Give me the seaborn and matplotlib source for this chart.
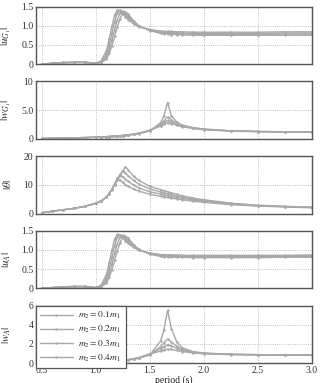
import matplotlib
matplotlib.use("Agg")
import matplotlib.pyplot as plt
import seaborn as sns
import pandas as pd

# period grid (s)
period = [0.5, 0.6, 0.7, 0.8, 0.9, 1.0, 1.05, 1.1, 1.125, 1.15, 1.175, 1.2, 1.225, 1.25, 1.275, 1.3,
          1.35, 1.4, 1.5, 1.6, 1.63, 1.665, 1.7, 1.75, 1.8, 1.9, 2.0, 2.25, 2.5, 2.75, 3.0]

cases = ["$m_2=0.1m_1$", "$m_2=0.2m_1$", "$m_2=0.3m_1$", "$m_2=0.4m_1$"]

# |u_G1|
uG1 = [
    [0.00, 0.02, 0.04, 0.05, 0.05, 0.02, 0.08, 0.35, 0.65, 0.98, 1.27, 1.41, 1.38, 1.31, 1.23, 1.16,
     1.05, 0.97, 0.90, 0.86, 0.85, 0.85, 0.85, 0.84, 0.84, 0.83, 0.83, 0.83, 0.83, 0.84, 0.84],
    [0.00, 0.02, 0.04, 0.05, 0.05, 0.02, 0.06, 0.25, 0.50, 0.80, 1.10, 1.33, 1.40, 1.36, 1.28, 1.20,
     1.07, 0.98, 0.89, 0.84, 0.83, 0.83, 0.82, 0.81, 0.81, 0.80, 0.80, 0.80, 0.80, 0.81, 0.81],
    [0.00, 0.02, 0.03, 0.04, 0.04, 0.02, 0.05, 0.18, 0.38, 0.62, 0.90, 1.15, 1.33, 1.38, 1.33, 1.25,
     1.10, 0.99, 0.88, 0.82, 0.81, 0.80, 0.79, 0.79, 0.78, 0.78, 0.77, 0.77, 0.77, 0.78, 0.78],
    [0.00, 0.01, 0.03, 0.04, 0.04, 0.02, 0.04, 0.12, 0.28, 0.48, 0.72, 0.96, 1.18, 1.32, 1.36, 1.31,
     1.13, 1.00, 0.87, 0.80, 0.79, 0.78, 0.77, 0.77, 0.76, 0.75, 0.75, 0.75, 0.75, 0.75, 0.75],
]

# |w_G1|
wG1 = [
    [0.05, 0.08, 0.12, 0.16, 0.20, 0.25, 0.30, 0.35, 0.37, 0.40, 0.43, 0.46, 0.50, 0.54, 0.58, 0.63,
     0.75, 0.90, 1.35, 2.80, 3.90, 6.30, 4.00, 2.90, 2.40, 1.95, 1.70, 1.40, 1.28, 1.22, 1.18],
    [0.05, 0.08, 0.12, 0.16, 0.21, 0.26, 0.31, 0.36, 0.38, 0.41, 0.44, 0.47, 0.51, 0.55, 0.60, 0.65,
     0.78, 0.94, 1.40, 2.50, 3.10, 3.80, 3.30, 2.70, 2.30, 1.90, 1.65, 1.38, 1.27, 1.20, 1.16],
    [0.05, 0.08, 0.12, 0.17, 0.22, 0.27, 0.32, 0.37, 0.39, 0.42, 0.45, 0.49, 0.53, 0.57, 0.62, 0.67,
     0.80, 0.97, 1.45, 2.30, 2.75, 3.20, 2.95, 2.50, 2.20, 1.85, 1.60, 1.36, 1.25, 1.19, 1.15],
    [0.05, 0.09, 0.13, 0.17, 0.22, 0.28, 0.33, 0.38, 0.40, 0.43, 0.46, 0.50, 0.54, 0.59, 0.64, 0.69,
     0.83, 1.00, 1.50, 2.20, 2.50, 2.80, 2.65, 2.35, 2.10, 1.80, 1.58, 1.34, 1.24, 1.18, 1.14],
]

# |theta|
theta = [
    [0.3, 0.8, 1.3, 1.8, 2.5, 3.6, 4.4, 5.8, 7.0, 8.5, 10.3, 12.3, 11.6, 10.8, 10.1, 9.5,
     8.5, 7.8, 6.7, 6.0, 5.8, 5.6, 5.4, 5.1, 4.8, 4.3, 3.9, 3.1, 2.6, 2.3, 2.0],
    [0.3, 0.8, 1.3, 1.8, 2.5, 3.6, 4.4, 5.8, 7.0, 8.5, 10.2, 12.0, 13.6, 12.8, 12.0, 11.2,
     9.9, 8.9, 7.6, 6.8, 6.5, 6.2, 6.0, 5.6, 5.3, 4.7, 4.2, 3.3, 2.7, 2.4, 2.1],
    [0.3, 0.8, 1.3, 1.8, 2.5, 3.5, 4.3, 5.7, 6.9, 8.4, 10.1, 11.8, 13.4, 14.9, 14.1, 13.2,
     11.5, 10.2, 8.6, 7.5, 7.2, 6.9, 6.6, 6.1, 5.7, 5.0, 4.5, 3.5, 2.8, 2.45, 2.15],
    [0.3, 0.8, 1.3, 1.8, 2.5, 3.5, 4.3, 5.6, 6.8, 8.3, 10.0, 11.6, 13.2, 14.8, 16.3, 15.2,
     13.0, 11.5, 9.5, 8.3, 8.0, 7.6, 7.2, 6.7, 6.2, 5.4, 4.8, 3.6, 2.9, 2.5, 2.2],
]

# |u_A|
uA = [
    [0.00, 0.02, 0.04, 0.05, 0.05, 0.02, 0.08, 0.36, 0.66, 0.99, 1.28, 1.41, 1.38, 1.32, 1.24, 1.17,
     1.07, 0.99, 0.92, 0.88, 0.88, 0.87, 0.87, 0.87, 0.86, 0.86, 0.86, 0.86, 0.86, 0.86, 0.87],
    [0.00, 0.02, 0.04, 0.05, 0.05, 0.02, 0.06, 0.26, 0.51, 0.81, 1.11, 1.34, 1.40, 1.36, 1.29, 1.21,
     1.08, 1.00, 0.91, 0.87, 0.86, 0.86, 0.85, 0.85, 0.85, 0.84, 0.84, 0.84, 0.84, 0.85, 0.85],
    [0.00, 0.02, 0.03, 0.04, 0.04, 0.02, 0.05, 0.19, 0.39, 0.63, 0.91, 1.16, 1.33, 1.38, 1.34, 1.26,
     1.11, 1.01, 0.90, 0.85, 0.84, 0.84, 0.83, 0.83, 0.83, 0.82, 0.82, 0.82, 0.82, 0.83, 0.83],
    [0.00, 0.01, 0.03, 0.04, 0.04, 0.02, 0.04, 0.13, 0.29, 0.49, 0.73, 0.97, 1.19, 1.33, 1.36, 1.32,
     1.14, 1.02, 0.89, 0.83, 0.82, 0.82, 0.81, 0.81, 0.81, 0.80, 0.80, 0.80, 0.80, 0.81, 0.81],
]

# |w_A|
wA = [
    [0.02, 0.03, 0.05, 0.07, 0.09, 0.12, 0.14, 0.16, 0.18, 0.19, 0.21, 0.23, 0.25, 0.27, 0.30, 0.33,
     0.40, 0.50, 0.85, 2.30, 3.40, 5.50, 3.60, 2.20, 1.60, 1.20, 1.05, 0.93, 0.88, 0.86, 0.85],
    [0.02, 0.03, 0.05, 0.07, 0.09, 0.12, 0.14, 0.17, 0.18, 0.20, 0.22, 0.24, 0.26, 0.28, 0.31, 0.35,
     0.42, 0.53, 0.90, 1.70, 2.10, 2.50, 2.20, 1.75, 1.45, 1.15, 1.02, 0.92, 0.88, 0.86, 0.85],
    [0.02, 0.03, 0.05, 0.07, 0.09, 0.12, 0.15, 0.17, 0.19, 0.20, 0.22, 0.24, 0.27, 0.29, 0.32, 0.36,
     0.44, 0.56, 0.95, 1.50, 1.70, 1.90, 1.80, 1.55, 1.35, 1.10, 1.00, 0.90, 0.86, 0.84, 0.83],
    [0.02, 0.03, 0.05, 0.07, 0.09, 0.12, 0.15, 0.17, 0.19, 0.21, 0.23, 0.25, 0.27, 0.30, 0.33, 0.37,
     0.46, 0.58, 0.95, 1.25, 1.35, 1.45, 1.42, 1.32, 1.20, 1.05, 0.97, 0.88, 0.84, 0.82, 0.81],
]

panels = [
    (uG1, r"$|u_{G_1}|$", (0, 1.5), [0, 0.5, 1.0, 1.5], ["0", "0.5", "1.0", "1.5"]),
    (wG1, r"$|w_{G_1}|$", (0, 10), [0, 5, 10], ["0", "5.0", "10"]),
    (theta, r"$|\theta|$", (0, 20), [0, 10, 20], ["0", "10", "20"]),
    (uA, r"$|u_A|$", (0, 1.5), [0, 0.5, 1.0, 1.5], ["0", "0.5", "1.0", "1.5"]),
    (wA, r"$|w_A|$", (0, 6), [0, 2, 4, 6], ["0", "2", "4", "6"]),
]

sns.set_style("whitegrid")
plt.rcParams["font.family"] = ["Liberation Serif", "DejaVu Serif"]
plt.rcParams["mathtext.fontset"] = "stix"

gray = "#a8a8a8"
edge = "#555555"

fig, axs = plt.subplots(5, 1, figsize=(3.2, 3.83), dpi=100, sharex=True)
fig.subplots_adjust(left=0.113, right=0.975, top=0.983, bottom=0.052, hspace=0.3)

for i, (ax, (series, ylab, ylim, yt, ytl)) in enumerate(zip(axs, panels)):
    rows = []
    for name, vals in zip(cases, series):
        for p, v in zip(period, vals):
            rows.append({"period": p, "value": v, "case": name})
    df = pd.DataFrame(rows)
    sns.lineplot(data=df, x="period", y="value", hue="case", palette=[gray] * 4,
                 marker=".", markersize=3.5, markeredgewidth=0, linewidth=1.0,
                 legend=(i == 4), ax=ax)
    ax.set_xlim(0.45, 3.0)
    ax.set_ylim(*ylim)
    ax.set_yticks(yt)
    ax.set_yticklabels(ytl)
    ax.set_xticks([0.5, 1.0, 1.5, 2.0, 2.5, 3.0])
    ax.set_xticklabels(["0.5", "1.0", "1.5", "2.0", "2.5", "3.0"])
    ax.set_ylabel(ylab, fontsize=8)
    ax.yaxis.set_label_coords(-0.085, 0.5)
    ax.set_xlabel("")
    ax.grid(True, linestyle=":", color="#aaaaaa", linewidth=0.6)
    for s in ax.spines.values():
        s.set_visible(True)
        s.set_color(edge)
        s.set_linewidth(1.0)
    ax.tick_params(axis="both", labelsize=7, length=2, direction="in", colors="#333333", pad=2)

axs[-1].set_xlabel("period (s)", fontsize=7, labelpad=1)
axs[-1].xaxis.set_label_coords(0.5, -0.21)
leg = axs[-1].legend(loc="upper left", bbox_to_anchor=(0.0, 1.0), borderaxespad=0, fontsize=6.8,
                     frameon=True, fancybox=False, handlelength=3.4, labelspacing=0.33,
                     borderpad=0.45, handletextpad=0.6)
leg.get_frame().set_edgecolor(edge)
leg.get_frame().set_linewidth(0.9)
leg.get_frame().set_alpha(1.0)

fig.savefig("out.png", dpi=100)
